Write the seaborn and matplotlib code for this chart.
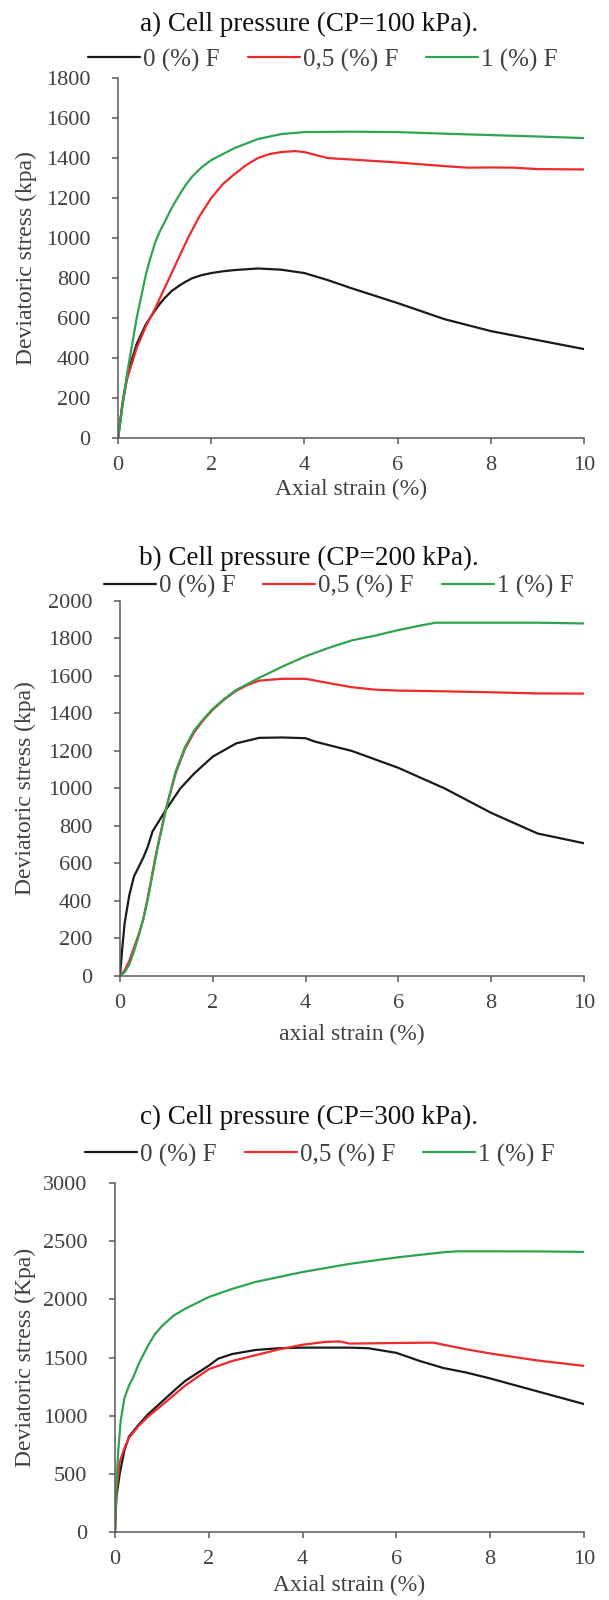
import numpy as np
import pandas as pd
import matplotlib
matplotlib.use("Agg")
import matplotlib.pyplot as plt
import seaborn as sns

sns.set_theme(style="ticks")
plt.rcParams['font.family'] = ['Liberation Serif', 'DejaVu Serif']

series_names = ["0 (%) F", "0,5 (%) F", "1 (%) F"]
line_colors = ["#1a1a1a", "#ee2a2a", "#2ea44f"]

# a) CP = 100 kPa
a_x0 = [0, 0.1, 0.2, 0.4, 0.6, 0.8, 0.9, 1.0, 1.15, 1.3, 1.45, 1.6, 1.8, 2.0, 2.25, 2.5, 3.0, 3.5, 4.0, 4.5, 5.0, 6.0, 7.0, 8.0, 9.0, 10.0]
a_y0 = [0, 180, 320, 470, 570, 640, 672, 700, 735, 760, 782, 800, 815, 825, 834, 840, 848, 842, 825, 790, 750, 675, 595, 535, 490, 445]
a_x1 = [0, 0.1, 0.2, 0.4, 0.6, 0.8, 1.0, 1.2, 1.5, 1.75, 2.0, 2.25, 2.5, 2.75, 3.0, 3.25, 3.5, 3.8, 4.0, 4.5, 5.0, 6.0, 7.0, 7.5, 8.0, 8.5, 9.0, 10.0]
a_y1 = [0, 180, 300, 450, 560, 650, 750, 850, 1000, 1110, 1200, 1270, 1320, 1365, 1400, 1420, 1430, 1435, 1430, 1400, 1393, 1378, 1360, 1352, 1353, 1352, 1345, 1343]
a_x2 = [0, 0.2, 0.4, 0.6, 0.7, 0.8, 0.9, 1.0, 1.15, 1.3, 1.45, 1.6, 1.8, 2.0, 2.5, 3.0, 3.5, 4.0, 5.0, 6.0, 7.0, 8.0, 9.0, 10.0]
a_y2 = [0, 330, 600, 820, 905, 980, 1035, 1080, 1150, 1210, 1265, 1310, 1355, 1390, 1450, 1495, 1520, 1530, 1532, 1530, 1522, 1515, 1508, 1500]

# b) CP = 200 kPa
b_x0 = [0, 0.05, 0.1, 0.2, 0.3, 0.4, 0.5, 0.6, 0.7, 0.8, 1.0, 1.3, 1.6, 2.0, 2.5, 3.0, 3.5, 4.0, 4.2, 5.0, 6.0, 7.0, 8.0, 9.0, 10.0]
b_y0 = [0, 150, 280, 430, 530, 580, 630, 690, 770, 810, 890, 1000, 1080, 1170, 1240, 1270, 1272, 1268, 1250, 1200, 1110, 1000, 870, 760, 708]
b_x1 = [0, 0.1, 0.2, 0.3, 0.4, 0.5, 0.6, 0.7, 0.8, 1.0, 1.2, 1.4, 1.6, 1.8, 2.0, 2.25, 2.5, 2.75, 3.0, 3.5, 4.0, 4.5, 5.0, 5.5, 6.0, 7.0, 8.0, 9.0, 10.0]
b_y1 = [0, 30, 80, 150, 220, 300, 420, 550, 680, 900, 1080, 1210, 1300, 1365, 1420, 1475, 1520, 1552, 1575, 1585, 1585, 1562, 1540, 1527, 1522, 1518, 1513, 1507, 1506]
b_x2 = [0, 0.1, 0.2, 0.3, 0.4, 0.5, 0.6, 0.7, 0.8, 1.0, 1.2, 1.4, 1.6, 1.8, 2.0, 2.25, 2.5, 3.0, 3.5, 4.0, 4.5, 5.0, 5.5, 6.0, 6.5, 6.8, 8.0, 9.0, 10.0]
b_y2 = [0, 20, 60, 130, 210, 300, 410, 540, 670, 900, 1090, 1220, 1310, 1370, 1425, 1478, 1525, 1590, 1650, 1705, 1750, 1790, 1815, 1845, 1870, 1884, 1884, 1884, 1880]

# c) CP = 300 kPa
c_x0 = [0, 0.03, 0.1, 0.2, 0.3, 0.5, 0.7, 1.0, 1.3, 1.5, 2.0, 2.2, 2.5, 3.0, 3.5, 4.0, 5.0, 5.4, 6.0, 6.5, 7.0, 7.5, 8.0, 9.0, 10.0]
c_y0 = [0, 300, 500, 700, 820, 920, 1010, 1120, 1230, 1300, 1430, 1490, 1530, 1565, 1580, 1585, 1585, 1580, 1540, 1470, 1410, 1370, 1320, 1210, 1100]
c_x1 = [0, 0.03, 0.1, 0.2, 0.3, 0.5, 0.7, 1.0, 1.5, 2.0, 2.5, 3.0, 3.5, 4.0, 4.5, 4.8, 5.0, 5.5, 6.0, 6.8, 7.0, 7.5, 8.0, 9.0, 10.0]
c_y1 = [0, 350, 600, 720, 810, 910, 990, 1090, 1260, 1400, 1470, 1520, 1570, 1610, 1635, 1638, 1620, 1622, 1625, 1628, 1610, 1570, 1535, 1475, 1428]
c_x2 = [0, 0.03, 0.07, 0.12, 0.2, 0.3, 0.4, 0.5, 0.7, 0.85, 1.0, 1.25, 1.5, 2.0, 2.5, 3.0, 4.0, 5.0, 6.0, 7.0, 7.3, 8.0, 9.0, 10.0]
c_y2 = [0, 400, 700, 950, 1150, 1260, 1340, 1440, 1600, 1700, 1770, 1860, 1920, 2020, 2090, 2150, 2235, 2305, 2360, 2405, 2413, 2413, 2412, 2408]

x_ticks = [0, 2, 4, 6, 8, 10]


def long_frame(xs, ys):
    parts = []
    for name, x, y in zip(series_names, xs, ys):
        parts.append(pd.DataFrame({"strain": x, "stress": y, "series": name}))
    return pd.concat(parts, ignore_index=True)


def draw_panel(ax, xs, ys, ymax, ystep, ylabel, xlabel, leg_anchor, ylab_x, xlab_y):
    df = long_frame(xs, ys)
    sns.lineplot(data=df, x="strain", y="stress", hue="series", hue_order=series_names,
                 palette=line_colors, estimator=None, sort=False, linewidth=1.6, ax=ax)
    ax.set_xlim(0, 10)
    ax.set_ylim(0, ymax)
    ax.set_xticks(x_ticks)
    ax.set_yticks(np.arange(0, ymax + 1, ystep))
    sns.despine(ax=ax)
    for s in ["left", "bottom"]:
        ax.spines[s].set_color("#595959")
        ax.spines[s].set_linewidth(1.1)
    ax.tick_params(axis="both", colors="#595959", labelcolor="#404040", labelsize=16,
                   length=4, width=1.1)
    ax.tick_params(axis="y", pad=16)
    ax.tick_params(axis="x", pad=9)
    ax.set_ylabel(ylabel, fontsize=17, color="#404040", va="center")
    ax.set_xlabel(xlabel, fontsize=17, color="#404040")
    ax.yaxis.set_label_coords(ylab_x, 0.5)
    ax.xaxis.set_label_coords(0.5, xlab_y)
    h, l = ax.get_legend_handles_labels()
    ax.legend(h, l, ncol=3, frameon=False, loc="center left", bbox_to_anchor=leg_anchor,
              fontsize=18, handlelength=2.08, handletextpad=0.12, columnspacing=1.12,
              borderpad=0, borderaxespad=0, labelcolor="#404040")


fig = plt.figure(figsize=(6.09, 16), dpi=100)
ax_a = fig.add_axes([0.1938, 0.7262, 0.7652, 0.2250])
ax_b = fig.add_axes([0.1970, 0.3900, 0.7619, 0.2344])
ax_c = fig.add_axes([0.1888, 0.0425, 0.7701, 0.2181])

draw_panel(ax_a, [a_x0, a_x1, a_x2], [a_y0, a_y1, a_y2], 1800, 200,
           "Deviatoric stress (kpa)", "Axial strain (%)", (-0.064, 1.050), -0.196, -0.112)
draw_panel(ax_b, [b_x0, b_x1, b_x2], [b_y0, b_y1, b_y2], 2000, 200,
           "Deviatoric stress (kpa)", "axial strain (%)", (-0.035, 1.038), -0.203, -0.128)
draw_panel(ax_c, [c_x0, c_x1, c_x2], [c_y0, c_y1, c_y2], 3000, 500,
           "Deviatoric stress (Kpa)", "Axial strain (%)", (-0.064, 1.080), -0.190, -0.123)

fig.text(0.507, 0.9845, "a) Cell pressure (CP=100 kPa).", ha="center", va="center", fontsize=19.5, color="#111111")
fig.text(0.507, 0.6510, "b) Cell pressure (CP=200 kPa).", ha="center", va="center", fontsize=19.5, color="#111111")
fig.text(0.507, 0.3015, "c) Cell pressure (CP=300 kPa).", ha="center", va="center", fontsize=19.5, color="#111111")

fig.savefig("out.png", dpi=100)
